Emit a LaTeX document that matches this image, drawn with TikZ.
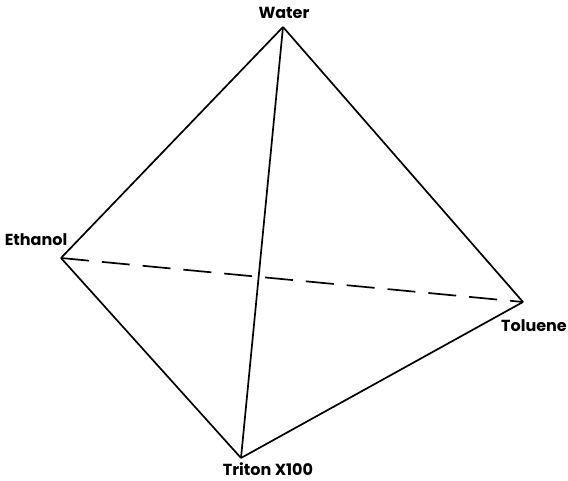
\documentclass[tikz,border=0pt]{standalone}
\usepackage{fontspec}
\setmainfont{Poppins}
\usepackage{tikz}

\begin{document}
\begin{tikzpicture}[x=1pt,y=-1pt,
    edge/.style={line width=1.7pt},
    hidden/.style={line width=1.7pt,dash pattern=on 28pt off 13pt},
    lbl/.style={font=\bfseries\fontsize{16}{16}\selectfont,inner sep=0pt}]
    \useasboundingbox (0,0) rectangle (568,481);
    \coordinate (water) at (283,27);
    \coordinate (ethanol) at (61,258);
    \coordinate (toluene) at (523,302);
    \coordinate (triton) at (241,458);
    \node[lbl] (wlab) at (284,13) {Water};
    \node[lbl] (elab) at (36,240) {Ethanol};
    \node[lbl] (tlab) at (534,326) {Toluene};
    \node[lbl] (xlab) at (268,469) {Triton X100};
    \draw[edge] (water) -- (ethanol);
    \draw[edge] (water) -- (toluene);
    \draw[edge] (water) -- (triton);
    \draw[edge] (ethanol) -- (triton);
    \draw[edge] (triton) -- (toluene);
    \draw[hidden] (ethanol) -- (toluene);
\end{tikzpicture}
\end{document}
